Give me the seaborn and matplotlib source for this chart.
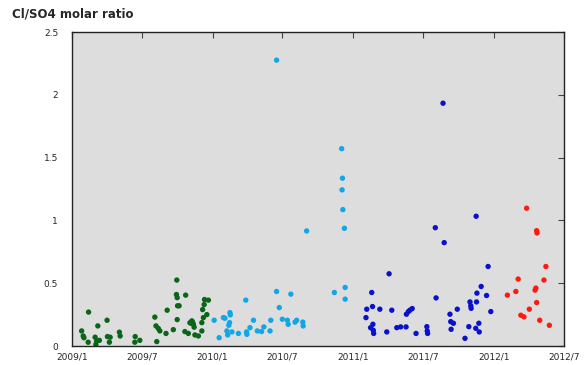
import matplotlib
matplotlib.use("Agg")
import matplotlib.pyplot as plt
import matplotlib.dates as mdates
import pandas as pd
import seaborn as sns

# sampling dates and Cl/SO4 molar ratios, one group per year
dates_2009 = [
    "2009-01-26", "2009-01-30", "2009-02-01", "2009-02-13", "2009-02-12",
    "2009-03-02", "2009-03-09", "2009-03-06", "2009-03-13", "2009-03-04",
    "2009-04-02", "2009-04-03", "2009-04-10", "2009-04-08", "2009-05-04",
    "2009-05-06", "2009-06-14", "2009-06-13", "2009-06-26", "2009-08-04",
    "2009-08-07", "2009-08-09", "2009-08-13", "2009-08-17", "2009-09-05",
    "2009-09-02", "2009-09-21", "2009-09-30", "2009-09-29", "2009-10-01",
    "2009-10-02", "2009-10-06", "2009-10-01", "2009-10-23", "2009-10-21",
    "2009-10-30", "2009-11-08", "2009-11-03", "2009-11-12", "2009-11-14",
    "2009-11-16", "2009-11-25", "2009-12-04", "2009-12-04", "2009-12-08",
    "2009-12-06", "2009-12-10", "2009-12-11", "2009-12-17", "2009-12-21",
    "2009-11-07", "2009-11-10",
]
ratio_2009 = [
    0.12, 0.08, 0.066, 0.27, 0.03,
    0.07, 0.16, 0.04, 0.045, 0.013,
    0.205, 0.075, 0.07, 0.03, 0.11,
    0.08, 0.075, 0.03, 0.045, 0.23,
    0.16, 0.035, 0.14, 0.12, 0.285,
    0.10, 0.13, 0.525, 0.41, 0.385,
    0.32, 0.32, 0.21, 0.405, 0.115,
    0.10, 0.20, 0.185, 0.173, 0.15,
    0.088, 0.08, 0.12, 0.186, 0.226,
    0.29, 0.33, 0.37, 0.25, 0.365,
    0.18, 0.19,
]

dates_2010 = [
    "2010-06-16", "2010-09-02", "2010-06-16", "2010-07-23", "2010-11-13",
    "2010-06-23", "2010-03-28", "2010-02-15", "2010-02-16", "2010-01-29",
    "2010-02-02", "2010-01-05", "2010-02-14", "2010-02-12", "2010-01-18",
    "2010-02-07", "2010-02-09", "2010-02-20", "2010-03-09", "2010-03-30",
    "2010-03-31", "2010-04-08", "2010-04-17", "2010-04-27", "2010-05-08",
    "2010-05-14", "2010-05-30", "2010-06-01", "2010-07-01", "2010-07-14",
    "2010-07-16", "2010-08-03", "2010-08-07", "2010-08-23", "2010-08-24",
    "2010-12-02", "2010-12-04", "2010-12-03", "2010-12-05", "2010-12-09",
    "2010-12-11", "2010-12-11",
]
ratio_2010 = [
    2.276, 0.916, 0.434, 0.413, 0.426,
    0.306, 0.365, 0.266, 0.248, 0.226,
    0.221, 0.205, 0.186, 0.165, 0.066,
    0.12, 0.088, 0.112, 0.10, 0.112,
    0.093, 0.146, 0.205, 0.12, 0.115,
    0.152, 0.12, 0.205, 0.213, 0.205,
    0.173, 0.19, 0.205, 0.19, 0.16,
    1.571, 1.336, 1.243, 1.086, 0.937,
    0.466, 0.373,
]

dates_2011 = [
    "2011-04-04", "2011-02-18", "2011-02-05", "2011-02-20", "2011-03-11",
    "2011-04-11", "2011-02-03", "2011-02-21", "2011-02-15", "2011-02-22",
    "2011-02-23", "2011-03-29", "2011-04-24", "2011-05-04", "2011-05-18",
    "2011-05-19", "2011-05-24", "2011-05-28", "2011-06-03", "2011-06-13",
    "2011-07-11", "2011-07-12", "2011-07-13", "2011-08-02", "2011-08-04",
    "2011-08-25", "2011-08-22", "2011-11-16", "2011-09-09", "2011-09-11",
    "2011-09-18", "2011-09-28", "2011-09-12", "2011-10-18", "2011-10-28",
    "2011-10-31", "2011-11-02", "2011-11-03", "2011-11-17", "2011-11-18",
    "2011-11-29", "2011-12-13", "2011-12-17", "2011-12-24", "2011-11-23",
    "2011-11-15", "2011-11-24",
]
ratio_2011 = [
    0.575, 0.426, 0.293, 0.314, 0.293,
    0.285, 0.226, 0.173, 0.146, 0.125,
    0.10, 0.112, 0.146, 0.152, 0.152,
    0.253, 0.274, 0.285, 0.298, 0.10,
    0.154, 0.12, 0.10, 0.942, 0.383,
    0.823, 1.933, 1.033, 0.253, 0.194,
    0.181, 0.293, 0.133, 0.061, 0.154,
    0.351, 0.32, 0.30, 0.351, 0.421,
    0.474, 0.402, 0.633, 0.274, 0.181,
    0.141, 0.112,
]

dates_2012 = [
    "2012-03-26", "2012-04-21", "2012-04-22", "2012-05-15", "2012-03-04",
    "2012-05-10", "2012-04-19", "2012-04-17", "2012-02-27", "2012-02-05",
    "2012-04-21", "2012-04-02", "2012-03-11", "2012-03-19", "2012-04-29",
    "2012-05-24",
]
ratio_2012 = [
    1.097, 0.918, 0.90, 0.633, 0.533,
    0.525, 0.461, 0.445, 0.434, 0.405,
    0.346, 0.293, 0.245, 0.232, 0.205,
    0.165,
]

colors = {"2009": "#0b6418", "2010": "#12a6e6", "2011": "#0a10cc", "2012": "#ff1a10"}

frames = []
for year, d, r in [("2009", dates_2009, ratio_2009), ("2010", dates_2010, ratio_2010),
                   ("2011", dates_2011, ratio_2011), ("2012", dates_2012, ratio_2012)]:
    frames.append(pd.DataFrame({"date": pd.to_datetime(d), "ratio": r, "year": year}))
df = pd.concat(frames, ignore_index=True)

sns.set_theme(style="white")
plt.rcParams["font.family"] = ["DejaVu Sans"]

fig = plt.figure(figsize=(5.85, 3.65), dpi=100)
ax = fig.add_axes([72 / 585, 1 - 346 / 365, 492 / 585, 314 / 365])
ax.set_facecolor("#dcdddc")

sns.scatterplot(data=df, x="date", y="ratio", hue="year", palette=colors,
                s=15, marker="o", linewidth=0, legend=False, ax=ax)

ax.set_xlim(pd.Timestamp("2009-01-01"), pd.Timestamp("2012-07-01"))
ax.set_ylim(0, 2.5)
ax.xaxis.set_major_locator(mdates.MonthLocator(bymonth=[1, 7]))
ax.xaxis.set_major_formatter(mdates.DateFormatter("%Y/%-m"))
ax.set_yticks([0, 0.5, 1, 1.5, 2, 2.5])
ax.set_yticklabels(["0", "0.5", "1", "1.5", "2", "2.5"])
ax.set_xlabel("")
ax.set_ylabel("")

ax.tick_params(axis="both", direction="in", length=4, width=0.8, color="#444444",
               labelsize=6.5, top=True, right=True)
ax.tick_params(axis="x", pad=5)
ax.tick_params(axis="y", pad=10)
for spine in ax.spines.values():
    spine.set_color("#222222")
    spine.set_linewidth(1.0)

fig.text(12 / 585, 1 - 14 / 365, "Cl/SO4 molar ratio", fontsize=8.5,
         fontweight="bold", va="center", ha="left")

fig.savefig("out.png", dpi=100)
